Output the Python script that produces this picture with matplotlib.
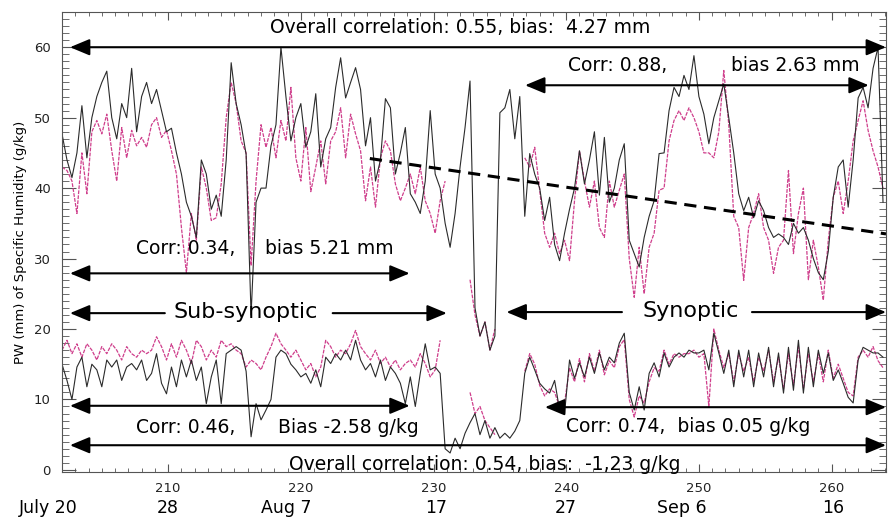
import numpy as np
import matplotlib
matplotlib.use('Agg')
from matplotlib import pyplot as plt
from matplotlib.ticker import MultipleLocator

# series sampled every 0.375 day starting at day 202
t_start = 202.0
t_step = 0.375

pw_black = [
    47.7, 44, 41.5, 45, 51.7, 44.3, 50, 53, 55, 56.6,
    50, 47, 52, 50, 57, 48, 53, 55, 52, 54,
    51, 48, 48.5, 45, 42, 38, 36, 33, 44, 42,
    37, 39, 36, 44, 57.8, 52, 49, 44.8, 22, 38,
    40, 40, 46, 49, 60, 53, 46.7, 50, 52, 45.8,
    48, 53.4, 43, 47, 48.6, 54.3, 58.5, 52.8, 55, 57.1,
    54, 46, 50, 41, 44, 52.7, 51.4, 42, 45, 48.6,
    39.2, 38, 36.4, 41, 51, 42, 40, 35, 31.6, 36.4,
    43, 48.6, 55.2, 23, 19, 21, 17, 19, 50.7, 51.4,
    54, 47, 53, 36, 44.9, 42, 40, 35.4, 38.7, 32,
    29.7, 33.6, 37, 40, 45.3, 40.6, 44, 48, 39, 47.2,
    38, 40, 44, 46.3, 32.6, 30.7, 28.8, 33, 36, 38.2,
    44.9, 45, 51, 54.3, 53, 56, 54, 58.8, 53, 50.5,
    46.3, 50, 52.4, 54.8, 50, 45, 39.2, 36.8, 38.7, 35.8,
    38.2, 36.8, 34.4, 33, 33.5, 33, 32, 35, 33.6, 34.4,
    32.6, 30, 28, 27, 31, 38.7, 43, 44, 37.3, 44,
    52.8, 54.3, 51.4, 57, 60, 38,
]

pw_magenta = [
    43, 42.5, 41, 36.4, 45, 39.2, 48, 49.6, 47.7, 50.5,
    45.3, 41, 48.6, 44.3, 48.2, 46, 47.2, 45.8, 49, 50,
    47.2, 48.2, 45.3, 42, 34.4, 28, 36.4, 32.6, 43, 40,
    35.4, 35.8, 40.6, 50, 55, 52, 46.7, 45, 29, 41,
    49, 45.8, 48.6, 44.3, 49.6, 46.7, 54.3, 44.3, 41, 48.6,
    39.5, 43, 46.7, 40.6, 46.7, 48, 51.4, 44.3, 50.5, 47.7,
    45.3, 38.2, 43, 37.3, 44.3, 46.7, 45.3, 40.6, 38.2, 40,
    42, 39.2, 43, 38.2, 36.4, 33.6, 38.2, 41, np.nan, np.nan,
    np.nan, np.nan, 27, 22, 19, 21, 17, 20, np.nan, np.nan,
    np.nan, np.nan, np.nan, 44.3, 43, 45.8, 39.7, 33.6, 31.6, 33.6,
    30.7, 32.6, 29.7, 38.2, 45.3, 41, 37.3, 41, 34.4, 33,
    41, 37.3, 39.7, 42, 30, 24.5, 31.6, 25, 31.6, 33.6,
    39.7, 40, 46.7, 49.6, 51, 49.6, 51.4, 50, 48, 45,
    45, 44.3, 48, 56.7, 49, 36, 34.4, 26.9, 34.4, 36.4,
    39.2, 34.4, 32.6, 27.9, 31.6, 32.6, 42.5, 30.7, 36.4, 40,
    27, 32.6, 28.8, 24.1, 32.6, 38.7, 41, 36.4, 41, 46.7,
    49.6, 52.4, 48.2, 45.3, 43, 40,
]

sh_black = [
    15, 12.7, 10, 14.6, 16, 11.8, 15, 14.2, 11.8, 15.6,
    14.6, 15.6, 12.7, 14.6, 15.1, 14.2, 15.6, 12.7, 13.7, 16.5,
    12.3, 10.8, 14.6, 11.8, 15.6, 13.2, 15.6, 12.7, 14.6, 9.4,
    13.2, 15.6, 9.4, 16.5, 17, 17.5, 17, 14, 4.7, 9.4,
    7.1, 8.5, 10, 16, 17, 16.5, 15, 14.2, 13.2, 13.7,
    12.3, 14.2, 11.8, 16, 15.1, 16.5, 15.6, 17, 15.6, 18.4,
    15.6, 14.2, 15.1, 13.2, 15.6, 12.7, 14.6, 13.7, 12.3, 9.4,
    13.2, 9, 13.7, 17.9, 14.2, 14.6, 13.7, 3, 2.4, 4.5,
    3, 5.2, 6.7, 8, 5, 7, 4.5, 6, 4.5, 5.2,
    4.5, 5.5, 7, 13.7, 16, 14.2, 12.3, 11.5, 10.9, 12.7,
    8.5, 8, 15.6, 13, 15.2, 13.2, 16, 13.7, 16.6, 14.2,
    16, 15.2, 18, 19.4, 11, 8.5, 11.8, 8.5, 13.7, 15.2,
    13.2, 16.6, 14.6, 16, 16.6, 16, 17, 16.6, 16.6, 17,
    14.2, 19.4, 16.6, 13.7, 17, 11.8, 17, 13.2, 17, 11.8,
    16.6, 13.2, 17.4, 11.8, 16.6, 10.9, 17.4, 11.3, 18.4, 10.9,
    17.4, 11.8, 17, 13.7, 16.6, 12.7, 14.2, 12.3, 10.3, 9.5,
    15.6, 17.4, 17, 16.6, 16.6, 16,
]

sh_magenta = [
    17, 18.4, 16.5, 17.9, 16, 17.9, 17, 15.6, 17.5, 16.5,
    17.9, 17, 15.6, 17.5, 16.5, 16, 17, 16.5, 17, 18.9,
    17.5, 15.6, 17.9, 16, 18.4, 17, 15.1, 18.4, 17.5, 15.6,
    17, 16, 18.4, 17.5, 17.9, 17, 16.5, 14.6, 15.6, 15.1,
    14.2, 16, 17.5, 19.4, 17.9, 17, 16, 17, 15.6, 14.2,
    15.1, 13.2, 14.6, 18.4, 17.5, 16, 17, 16.5, 17.9, 19.8,
    17.5, 16.5, 15.6, 17, 15.1, 16, 14.6, 15.6, 14.2, 15.1,
    15.6, 14.6, 16.5, 15.1, 13.2, 14.2, 18.4, np.nan, np.nan, np.nan,
    np.nan, np.nan, 11, 8, 9, 7, 6, 5, np.nan, np.nan,
    np.nan, np.nan, np.nan, 14, 16.5, 15, 12, 10.5, 11.5, 11,
    9, 9.5, 14.5, 12.5, 15.8, 12.5, 16.5, 14, 17, 13.5,
    15.5, 14.5, 17.5, 18.5, 10, 7.5, 10.5, 9.5, 12.5, 14.5,
    14, 17, 15, 16.5, 16, 16.5, 16.5, 17, 16, 16.5,
    9, 20, 17, 14.5, 16.5, 12.5, 16.5, 14, 16, 12.5,
    16, 14, 17, 12.5, 16, 11.5, 16.5, 12, 17.5, 11.5,
    16.5, 12.5, 16.5, 12.5, 17, 13, 15, 13, 11, 10.5,
    16, 17, 16, 17.5, 15.5, 14.5,
]

# trend line of the synoptic part
trend_days = [225.2, 264.1]
trend_vals = [44.2, 33.5]

date_labels = ['July 20', '28', 'Aug 7', '17', '27', 'Sep 6', '16']
date_days = [200.95, 210, 218.9, 230.2, 240, 248.7, 260.1]

TXT = ['DejaVu Sans']
TS = 13.5

t = t_start + t_step * np.arange(len(pw_black))

fig = plt.figure(figsize=(8.88, 5.22), dpi=100)
ax = fig.add_axes([62 / 888., 50 / 522., 824 / 888., 460 / 522.])

ax.plot(t, pw_magenta, color='#cf3f8c', lw=0.9, ls=(0, (3, 1)))
ax.plot(t, sh_magenta, color='#cf3f8c', lw=0.9, ls=(0, (3, 1)))
ax.plot(t, pw_black, color='#2b2b2b', lw=0.8)
ax.plot(t, sh_black, color='#2b2b2b', lw=0.8)
ax.plot(trend_days, trend_vals, color='black', lw=2.2, ls=(0, (4, 2.5)))

ax.set_xlim(202, 264.1)
ax.set_ylim(-0.3, 65)

ax.xaxis.set_major_locator(MultipleLocator(10))
ax.xaxis.set_minor_locator(MultipleLocator(1))
ax.yaxis.set_major_locator(MultipleLocator(10))
ax.yaxis.set_minor_locator(MultipleLocator(1))
ax.tick_params(which='both', direction='in', top=True, right=True, colors='#555555',
               labelcolor='#222222', labelsize=9.5)
ax.tick_params(axis='x', which='major', length=6, pad=7)
ax.tick_params(axis='x', which='minor', length=3)
ax.tick_params(axis='y', which='major', length=10, pad=8)
ax.tick_params(axis='y', which='minor', length=5)
ax.set_xticks([210, 220, 230, 240, 250, 260])
for s in ax.spines.values():
    s.set_color('#555555')
    s.set_linewidth(0.8)

ax.set_ylabel('PW (mm) of Specific Humidity (g/kg)', fontsize=9.5, family=TXT, labelpad=5)

for lab, d in zip(date_labels, date_days):
    ax.text(d, -0.078, lab, transform=ax.get_xaxis_transform(), ha='center', va='center',
            fontsize=12.5, family=TXT, clip_on=False)


def arrow(x1, x2, y, both=True):
    style = '<|-|>' if both else '-|>'
    ax.annotate('', xy=(x2, y), xytext=(x1, y),
                arrowprops=dict(arrowstyle=style + ',head_length=0.6,head_width=0.25',
                                color='black', lw=1.5, mutation_scale=20,
                                shrinkA=0, shrinkB=0), annotation_clip=False)


def label(x, y, s, ha='left', size=TS):
    ax.text(x, y, s, ha=ha, va='center', fontsize=size, family=TXT)


# upper annotations
arrow(202.6, 264.1, 60)
label(232.0, 62.8, 'Overall correlation: 0.55, bias:  4.27 mm', ha='center')
arrow(236.9, 262.8, 54.6)
label(240.1, 57.4, 'Corr: 0.88,')
label(252.45, 57.4, 'bias 2.63 mm')
arrow(202.6, 228.2, 27.9)
label(207.6, 31.4, 'Corr: 0.34,')
label(217.3, 31.4, 'bias 5.21 mm')

# regime arrows
arrow(209.75, 202.6, 22.25, both=False)
arrow(222.4, 231.0, 22.25, both=False)
label(215.85, 22.4, 'Sub-synoptic', ha='center', size=16)
arrow(244.2, 235.5, 22.4, both=False)
arrow(254.0, 264.1, 22.4, both=False)
label(249.4, 22.5, 'Synoptic', ha='center', size=16)

# lower annotations
arrow(202.6, 228.2, 9.1)
label(207.6, 6.0, 'Corr: 0.46,')
label(218.3, 6.0, 'Bias -2.58 g/kg')
arrow(238.4, 264.1, 8.9)
label(240.0, 6.1, 'Corr: 0.74,  bias 0.05 g/kg')
arrow(202.6, 264.1, 3.5)
label(233.85, 0.8, 'Overall correlation: 0.54, bias:  -1,23 g/kg', ha='center')

fig.savefig('out.png', dpi=100)
